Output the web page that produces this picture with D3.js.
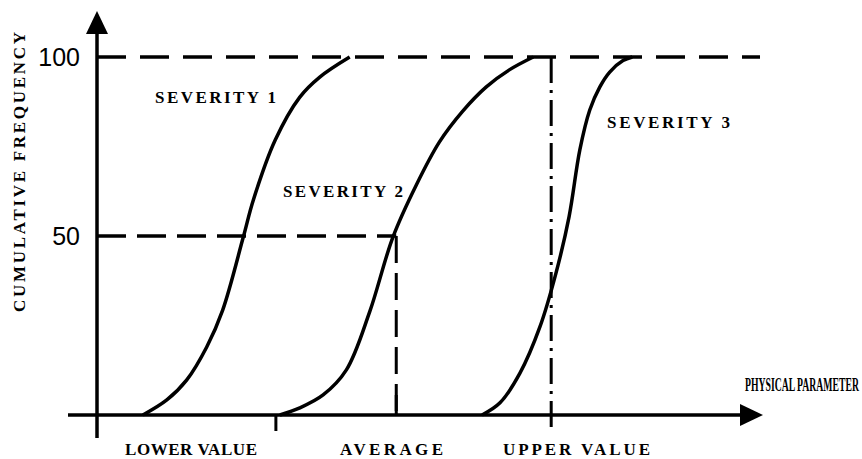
<!DOCTYPE html>
<html>
<head>
<meta charset="utf-8">
<script src="https://cdn.jsdelivr.net/npm/d3@7"></script>
<style>
    html, body { margin: 0; padding: 0; background: #fff; }
    svg { display: block; }
    .lbl { font-family: 'Liberation Serif', 'Times New Roman', serif; font-weight: bold; fill: #000; }
    .num { font-family: 'Liberation Sans', Arial, sans-serif; fill: #000; }
</style>
</head>
<body>
<svg id="chart" width="862" height="459"></svg>
<script>
    // Data (parameter axis in arbitrary units 0..100)
    const severity1X = [6.9, 10.5, 13.5, 16.5, 18.9, 22.0, 23.5, 26.8, 30.5, 33.5, 38.0];
    const severity1Y = [0, 4.2, 9.8, 19, 29.3, 49.7, 60, 76.8, 88.8, 94.4, 100];
    const severity2X = [27.5, 30.5, 34, 37.5, 41, 44.5, 48, 51.5, 55, 58.5, 62, 65.6];
    const severity2Y = [0, 2.0, 5.6, 12.6, 28.8, 49.7, 64.2, 76.3, 84.9, 91.6, 96.4, 100];
    const severity3X = [57.9, 60.6, 63.6, 66.6, 69.0, 71.0, 72.6, 74.1, 75.6, 77.1, 79.1, 80.5];
    const severity3Y = [0, 3.4, 11.7, 24.6, 39.5, 55.5, 74, 85.2, 91.6, 95.8, 99, 100];
    const seriesNames = ['SEVERITY 1', 'SEVERITY 2', 'SEVERITY 3'];

    const yTicks = [50, 100];
    const xMarkNames = ['LOWER VALUE', 'AVERAGE', 'UPPER VALUE'];
    const xMarks = [26.9, 45.0, 68.3];

    // Layout
    const x = d3.scaleLinear().domain([0, 100]).range([97, 762]);
    const y = d3.scaleLinear().domain([0, 100]).range([415, 57]);

    const svg = d3.select('#chart');

    const line = d3.line()
        .x((d) => x(d[0]))
        .y((d) => y(d[1]))
        .curve(d3.curveCatmullRom.alpha(0.5));

    // Reference lines
    const ref = svg.append('g').attr('class', 'refs')
        .attr('stroke', '#000').attr('fill', 'none');

    // 100 line across to the end
    ref.append('line')
        .attr('x1', x(0)).attr('x2', x(99.7))
        .attr('y1', y(100)).attr('y2', y(100))
        .attr('stroke-width', 3.5)
        .attr('stroke-dasharray', '29,14');

    // 50 line up to the average
    ref.append('line')
        .attr('x1', x(0)).attr('x2', x(xMarks[1]))
        .attr('y1', y(50)).attr('y2', y(50))
        .attr('stroke-width', 3.5)
        .attr('stroke-dasharray', '29,11');

    // average drop line
    ref.append('line')
        .attr('x1', x(xMarks[1])).attr('x2', x(xMarks[1]))
        .attr('y1', y(50)).attr('y2', y(0))
        .attr('stroke-width', 3)
        .attr('stroke-dasharray', '27,10');
    ref.append('line')
        .attr('x1', x(xMarks[1])).attr('x2', x(xMarks[1]))
        .attr('y1', y(0) - 20).attr('y2', y(0))
        .attr('stroke-width', 3);

    // upper value dash-dot line
    ref.append('line')
        .attr('x1', x(xMarks[2])).attr('x2', x(xMarks[2]))
        .attr('y1', y(100)).attr('y2', y(0) + 17)
        .attr('stroke-width', 3)
        .attr('stroke-dasharray', '26,7,3,7');

    // lower value tick
    ref.append('line')
        .attr('x1', x(xMarks[0])).attr('x2', x(xMarks[0]))
        .attr('y1', y(0)).attr('y2', y(0) + 16)
        .attr('stroke-width', 3);

    // Curves
    const curves = [
        d3.zip(severity1X, severity1Y),
        d3.zip(severity2X, severity2Y),
        d3.zip(severity3X, severity3Y)
    ];
    svg.append('g').attr('class', 'curves')
        .selectAll('path')
        .data(curves)
        .enter().append('path')
            .attr('d', line)
            .attr('fill', 'none')
            .attr('stroke', '#000')
            .attr('stroke-width', 3.5);

    // Axes
    const axes = svg.append('g').attr('class', 'axes').attr('stroke', '#000');
    axes.append('line')
        .attr('x1', x(0)).attr('x2', x(0))
        .attr('y1', 438).attr('y2', 30)
        .attr('stroke-width', 3.5);
    axes.append('line')
        .attr('x1', 68).attr('x2', 742)
        .attr('y1', y(0)).attr('y2', y(0))
        .attr('stroke-width', 3.5);
    // arrow heads
    axes.append('path')
        .attr('d', d3.line()([[x(0) - 11, 34], [x(0), 11], [x(0) + 11, 34]]) + 'Z')
        .attr('fill', '#000').attr('stroke', 'none');
    axes.append('path')
        .attr('d', d3.line()([[740, y(0) - 11], [763, y(0)], [740, y(0) + 11]]) + 'Z')
        .attr('fill', '#000').attr('stroke', 'none');

    // Y tick labels
    svg.append('g').selectAll('text')
        .data(yTicks)
        .enter().append('text')
            .attr('class', 'num')
            .attr('x', 80)
            .attr('y', (d) => y(d) + 9)
            .attr('text-anchor', 'end')
            .attr('font-size', 25)
            .text((d) => d);

    // Series labels
    const seriesLabelPos = [[155, 103, 121], [283, 197, 120], [607, 128, 123]];
    svg.append('g').selectAll('text')
        .data(seriesNames)
        .enter().append('text')
            .attr('class', 'lbl')
            .attr('x', (d, i) => seriesLabelPos[i][0])
            .attr('y', (d, i) => seriesLabelPos[i][1])
            .attr('font-size', 17)
            .attr('textLength', (d, i) => seriesLabelPos[i][2])
            .attr('lengthAdjust', 'spacing')
            .text((d) => d);

    // X marker labels (offset from their marks as in the picture)
    const markLabelPos = [[125, 132], [340, 103], [503, 147]];
    svg.append('g').selectAll('text')
        .data(xMarkNames)
        .enter().append('text')
            .attr('class', 'lbl')
            .attr('x', (d, i) => markLabelPos[i][0])
            .attr('y', 455)
            .attr('font-size', 17)
            .attr('textLength', (d, i) => markLabelPos[i][1])
            .attr('lengthAdjust', 'spacing')
            .text((d) => d);

    // Axis titles
    svg.append('text')
        .attr('class', 'lbl')
        .attr('transform', 'translate(745,391) scale(0.54,1)')
        .attr('font-size', 18)
        .text('PHYSICAL PARAMETER');

    svg.append('text')
        .attr('class', 'lbl')
        .attr('transform', 'translate(25,172) rotate(-90)')
        .attr('text-anchor', 'middle')
        .attr('font-size', 17)
        .attr('textLength', 280)
        .attr('lengthAdjust', 'spacing')
        .text('CUMULATIVE FREQUENCY');
</script>
</body>
</html>
